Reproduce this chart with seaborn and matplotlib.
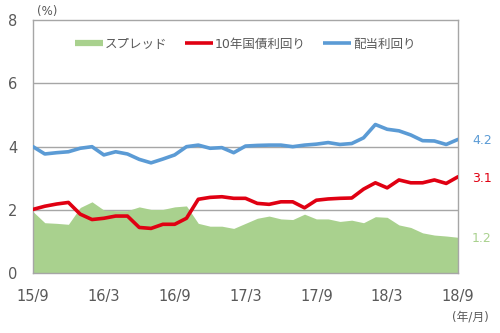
import numpy as np
import pandas as pd
import matplotlib
matplotlib.use("Agg")
import matplotlib.pyplot as plt
import seaborn as sns
from matplotlib.lines import Line2D

# ---- data ----
months = list(range(37))  # 2015/9 .. 2018/9 monthly
tick_pos = [0, 6, 12, 18, 24, 30, 36]
tick_labels = ["15/9", "16/3", "16/9", "17/3", "17/9", "18/3", "18/9"]

dividend_yield = [4.00, 3.77, 3.81, 3.84, 3.95, 4.00, 3.74, 3.84, 3.77, 3.60,
                  3.49, 3.61, 3.74, 4.00, 4.05, 3.95, 3.97, 3.81, 4.02, 4.04,
                  4.05, 4.05, 4.00, 4.05, 4.08, 4.13, 4.07, 4.10, 4.28, 4.70,
                  4.55, 4.50, 4.37, 4.19, 4.18, 4.07, 4.23]
bond_yield = [2.02, 2.12, 2.19, 2.24, 1.87, 1.70, 1.74, 1.81, 1.81, 1.45,
              1.42, 1.55, 1.55, 1.74, 2.34, 2.40, 2.42, 2.37, 2.37, 2.21,
              2.18, 2.26, 2.26, 2.07, 2.31, 2.35, 2.37, 2.38, 2.66, 2.86,
              2.70, 2.95, 2.86, 2.86, 2.95, 2.84, 3.05]
spread = [1.95, 1.60, 1.58, 1.55, 2.08, 2.26, 2.00, 1.98, 1.98, 2.10,
          2.02, 2.02, 2.10, 2.13, 1.58, 1.49, 1.49, 1.42, 1.58, 1.74,
          1.81, 1.72, 1.70, 1.87, 1.72, 1.72, 1.64, 1.68, 1.60, 1.79,
          1.77, 1.53, 1.45, 1.28, 1.21, 1.18, 1.14]
end_labels = ["4.2", "3.1", "1.2"]
series_names = ["スプレッド", "10年国債利回り", "配当利回り"]

df = pd.DataFrame({"month": months, "spread": spread,
                   "bond": bond_yield, "div": dividend_yield})

# ---- style ----
sns.set_theme(style="white")
plt.rcParams["font.family"] = ["DejaVu Sans", "Noto Sans CJK JP"]

GREEN = "#A9D18E"
RED = "#E00012"
BLUE = "#5B9BD5"
GRID = "#A6A6A6"
TXT = "#595959"

fig = plt.figure(figsize=(5.0, 3.33), dpi=100)
ax = fig.add_axes([0.066, 0.179, 0.850, 0.761])

# grid behind the fill
for yv in [2, 4, 6]:
    ax.axhline(yv, color=GRID, lw=1.0, zorder=0.5)

ax.fill_between(df["month"], 0, df["spread"], color=GREEN, lw=0, zorder=1)
sns.lineplot(data=df, x="month", y="bond", color=RED, lw=2.6, ax=ax, zorder=3)
sns.lineplot(data=df, x="month", y="div", color=BLUE, lw=2.6, ax=ax, zorder=3)

ax.set_xlim(0, 36)
ax.set_ylim(0, 8)
ax.set_xlabel("")
ax.set_ylabel("")
ax.set_xticks(tick_pos)
ax.set_xticklabels(tick_labels)
ax.set_yticks([0, 2, 4, 6, 8])
ax.tick_params(axis="x", direction="in", length=4, width=1, color=GRID,
               pad=11, labelsize=10.5, labelcolor=TXT)
ax.tick_params(axis="y", length=0, pad=11, labelsize=10.5, labelcolor=TXT)
for s in ax.spines.values():
    s.set_color(GRID)
    s.set_linewidth(1.0)
    s.set_visible(True)

# end value labels
last = [dividend_yield[-1], bond_yield[-1], spread[-1]]
cols = [BLUE, RED, GREEN]
for lab, v, c in zip(end_labels, last, cols):
    ax.annotate(lab, xy=(36, v), xytext=(10, -1), textcoords="offset points",
                ha="left", va="center", color=c, fontsize=9,
                annotation_clip=False)

# legend
handles = [Line2D([0], [0], color=GREEN, lw=4.5, solid_capstyle="butt"),
           Line2D([0], [0], color=RED, lw=2.6, solid_capstyle="butt"),
           Line2D([0], [0], color=BLUE, lw=2.6, solid_capstyle="butt")]
leg = ax.legend(handles, series_names, loc="center", bbox_to_anchor=(0.5, 0.905),
                ncol=3, frameon=False, fontsize=9, handlelength=2.2,
                handletextpad=0.2, columnspacing=1.4)
for t in leg.get_texts():
    t.set_color(TXT)

fig.text(47 / 500, 1 - 12 / 333, "(%)", fontsize=8.5, color=TXT,
         ha="center", va="center")
fig.text(470 / 500, 1 - 317 / 333, "(年/月)", fontsize=8.5, color=TXT,
         ha="center", va="center")

fig.savefig("out.png", dpi=100)
